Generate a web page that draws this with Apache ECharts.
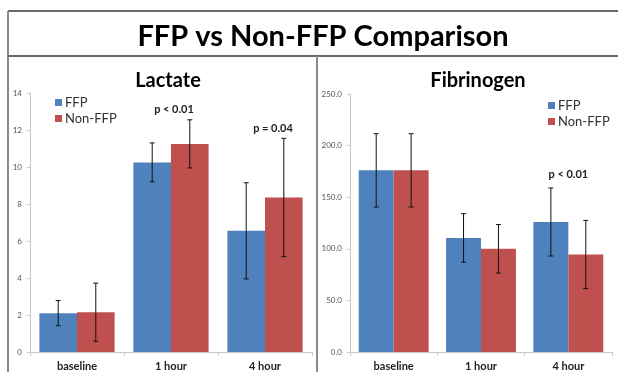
<!DOCTYPE html>
<html>
<head>
<meta charset="utf-8">
<script src="https://cdn.jsdelivr.net/npm/echarts@6/dist/echarts.min.js"></script>
<style>html,body{margin:0;padding:0;background:#fff}#c{width:618px;height:372px}</style>
</head>
<body>
<div id="c"></div>
<script>
const categories = ['baseline', '1 hour', '4 hour'];
const lactateFFP = [2.1, 10.25, 6.55];
const lactateFFPErr = [0.68, 1.05, 2.6];
const lactateNon = [2.15, 11.25, 8.35];
const lactateNonErr = [1.57, 1.3, 3.2];
const fibFFP = [176, 110.5, 126];
const fibFFPErr = [35.5, 23.5, 33];
const fibNon = [176, 100, 94.5];
const fibNonErr = [35.5, 23.5, 33];
const lactateTicks = [0, 14, 2];
const fibTicks = [0, 250, 50];
const lactateP = [{cat: 1, y: 13.1, text: 'p < 0.01'}, {cat: 2, y: 12.1, text: 'p = 0.04'}];
const fibP = [{cat: 2, y: 172, text: 'p < 0.01'}];

const BLUE = '#4F81BD', RED = '#C0504D';
const FONT = 'Lato, "Open Sans", sans-serif';

function errData(means, errs) {
  return means.map((m, i) => [i, m - errs[i], m + errs[i]]);
}
function errSeries(name, means, errs, side, axis) {
  return {
    type: 'custom', name: name + ' err', xAxisIndex: axis, yAxisIndex: axis, z: 5,
    data: errData(means, errs), encode: {x: 0, y: [1, 2]},
    renderItem: function (params, api) {
      const band = api.size([1, 0])[0];
      const lo = api.coord([api.value(0), api.value(1)]);
      const hi = api.coord([api.value(0), api.value(2)]);
      const x = lo[0] + side * band * 0.2;
      const w = 2.5;
      const st = {stroke: '#111', lineWidth: 1};
      return {type: 'group', children: [
        {type: 'line', shape: {x1: x, y1: lo[1], x2: x, y2: hi[1]}, style: st},
        {type: 'line', shape: {x1: x - w, y1: lo[1], x2: x + w, y2: lo[1]}, style: st},
        {type: 'line', shape: {x1: x - w, y1: hi[1], x2: x + w, y2: hi[1]}, style: st}
      ]};
    }
  };
}
function pSeries(list, axis, dx) {
  return {
    type: 'custom', xAxisIndex: axis, yAxisIndex: axis, z: 6,
    data: list.map((p, i) => [p.cat, p.y, i]),
    renderItem: function (params, api) {
      const c = api.coord([api.value(0), api.value(1)]);
      const item = list[api.value(2)];
      return {type: 'text', x: c[0] + dx[api.value(2)], y: c[1], style: {
        text: item.text, fontFamily: FONT, fontWeight: 'bold', fontSize: 11,
        fill: '#222', align: 'center', verticalAlign: 'middle'}};
    }
  };
}
function barSeries(name, data, color, axis) {
  return {type: 'bar', name: name, xAxisIndex: axis, yAxisIndex: axis, data: data,
    barGap: '0%', barCategoryGap: '20%', itemStyle: {color: color}, z: 2};
}
function yAxis(ticks, gridIndex, fmt) {
  return {type: 'value', gridIndex: gridIndex, min: ticks[0], max: ticks[1], interval: ticks[2],
    axisLine: {show: true, lineStyle: {color: '#c8c8c8'}},
    axisTick: {show: true, length: 3, lineStyle: {color: '#c8c8c8'}},
    splitLine: {show: false},
    axisLabel: {fontFamily: FONT, fontSize: 8, color: '#555', margin: 8, formatter: fmt}};
}
function xAxis(gridIndex) {
  return {type: 'category', gridIndex: gridIndex, data: categories,
    axisLine: {lineStyle: {color: '#c8c8c8'}},
    axisTick: {show: true, length: 4, lineStyle: {color: '#c8c8c8'}},
    axisLabel: {fontFamily: FONT, fontSize: 11, fontWeight: 'bold', color: '#222', margin: 9}};
}

const chart = echarts.init(document.getElementById('c'), null, {renderer: 'canvas'});
chart.setOption({
  animation: false,
  backgroundColor: '#fff',
  title: [
    {text: 'FFP vs Non-FFP Comparison', left: 318, top: 17, textAlign: 'center',
      textStyle: {fontFamily: FONT, fontSize: 29, fontWeight: 'bold', color: '#000'}},
    {text: 'Lactate', left: 163, top: 66, textAlign: 'center',
      textStyle: {fontFamily: FONT, fontSize: 20, fontWeight: 'bold', color: '#000'}},
    {text: 'Fibrinogen', left: 473, top: 66, textAlign: 'center',
      textStyle: {fontFamily: FONT, fontSize: 20, fontWeight: 'bold', color: '#000'}}
  ],
  legend: [
    {data: ['FFP', 'Non-FFP'], orient: 'vertical', left: 50, top: 91, itemWidth: 7, itemHeight: 7,
      itemGap: 3, icon: 'rect', selectedMode: false,
      textStyle: {fontFamily: FONT, fontSize: 13, color: '#333', padding: [0, 0, 0, -2]}},
    {data: ['FFP', 'Non-FFP'], orient: 'vertical', left: 543, top: 94, itemWidth: 7, itemHeight: 7,
      itemGap: 3, icon: 'rect', selectedMode: false,
      textStyle: {fontFamily: FONT, fontSize: 13, color: '#333', padding: [0, 0, 0, -2]}}
  ],
  grid: [
    {left: 30, top: 93, width: 282, height: 261},
    {left: 350, top: 94, width: 262, height: 260}
  ],
  xAxis: [xAxis(0), xAxis(1)],
  yAxis: [yAxis(lactateTicks, 0, v => String(v)), yAxis(fibTicks, 1, v => v.toFixed(1))],
  series: [
    barSeries('FFP', lactateFFP, BLUE, 0),
    barSeries('Non-FFP', lactateNon, RED, 0),
    barSeries('FFP', fibFFP, BLUE, 1),
    barSeries('Non-FFP', fibNon, RED, 1),
    errSeries('FFP', lactateFFP, lactateFFPErr, -1, 0),
    errSeries('Non-FFP', lactateNon, lactateNonErr, 1, 0),
    errSeries('FFP', fibFFP, fibFFPErr, -1, 1),
    errSeries('Non-FFP', fibNon, fibNonErr, 1, 1),
    pSeries(lactateP, 0, [3, 8]),
    pSeries(fibP, 1, [0])
  ],
  graphic: [
    {type: 'line', shape: {x1: 8, y1: 11, x2: 618, y2: 11}, style: {stroke: '#6a6a6a', lineWidth: 2}},
    {type: 'line', shape: {x1: 8, y1: 11, x2: 8, y2: 372}, style: {stroke: '#8a8a8a', lineWidth: 2}},
    {type: 'line', shape: {x1: 8, y1: 56, x2: 618, y2: 56}, style: {stroke: '#6a6a6a', lineWidth: 2}},
    {type: 'line', shape: {x1: 317, y1: 56, x2: 317, y2: 372}, style: {stroke: '#8a8a8a', lineWidth: 2}}
  ]
});
</script>
</body>
</html>
